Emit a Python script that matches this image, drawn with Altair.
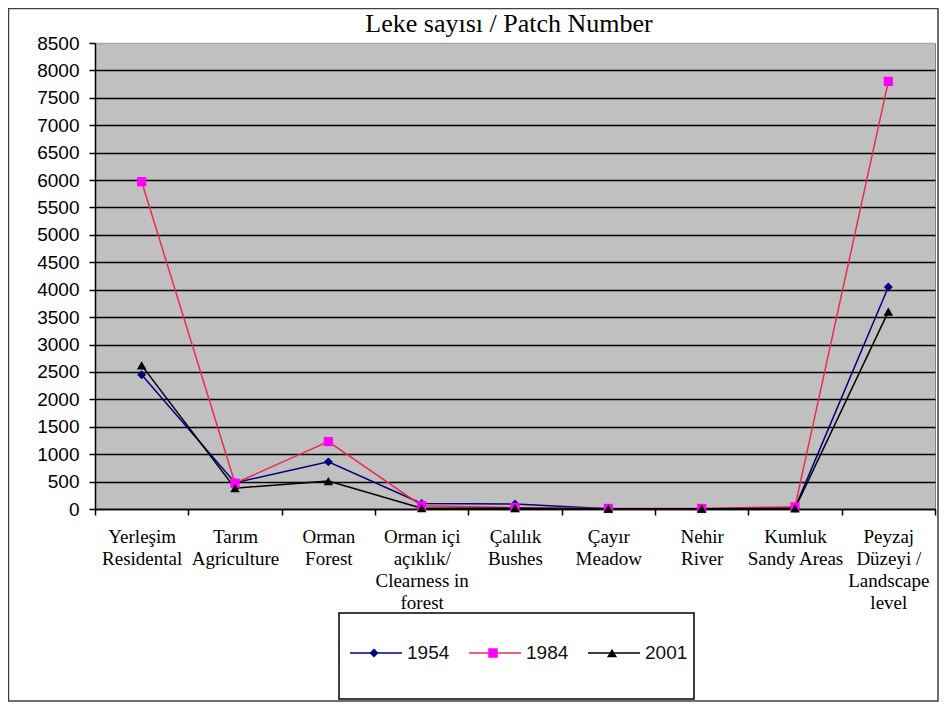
import altair as alt
import pandas as pd

categories = [
    "Yerleşim\nResidental",
    "Tarım\nAgriculture",
    "Orman\nForest",
    "Orman içi\naçıklık/\nClearness in\nforest",
    "Çalılık\nBushes",
    "Çayır\nMeadow",
    "Nehir\nRiver",
    "Kumluk\nSandy Areas",
    "Peyzaj\nDüzeyi /\nLandscape\nlevel",
]
years = ["1954", "1984", "2001"]
v1954 = [2450, 480, 860, 100, 90, 5, 5, 20, 4050]
v1984 = [5970, 470, 1230, 60, 25, 10, 10, 40, 7800]
v2001 = [2620, 380, 510, 15, 15, 5, 5, 10, 3600]
y_ticks = list(range(0, 8501, 500))
title_text = "Leke sayısı / Patch Number"

line_colors = ["#000080", "#ee2a50", "#000000"]
marker_colors = ["#000080", "#ff00ff", "#000000"]
shapes = ["diamond", "square", "triangle-up"]
sizes = [80, 90, 100]

rows = []
for yr, vals in zip(years, [v1954, v1984, v2001]):
    for c, v in zip(categories, vals):
        rows.append({"category": c, "year": yr, "value": v})
df = pd.DataFrame(rows)
one = pd.DataFrame({"k": [0]})  # single row for decorative marks

W, H = 840, 466

x_enc = alt.X(
    "category:N",
    sort=categories,
    scale=alt.Scale(type="band", paddingInner=0, paddingOuter=0),
    axis=alt.Axis(
        title=None,
        labelExpr="datum.value ? split(datum.value, '\\n') : ''",
        labelAngle=0,
        labelFont="Liberation Serif",
        labelFontSize=19,
        labelLineHeight=22,
        labelColor="black",
        labelPadding=12,
        labelBaseline="top",
        labelOverlap=False,
        labelLimit=300,
        labelBound=False,
        tickBand="extent",
        tickSize=6,
        tickColor="black",
        tickWidth=1.5,
        domainColor="black",
        domainWidth=1.5,
        grid=False,
    ),
)
y_enc = alt.Y(
    "value:Q",
    scale=alt.Scale(domain=[0, 8500], nice=False),
    axis=alt.Axis(
        title=None,
        values=y_ticks,
        format="d",
        labelFont="Liberation Sans",
        labelFontSize=19,
        labelColor="black",
        labelPadding=10,
        tickSize=6,
        tickColor="black",
        tickWidth=1.5,
        domainColor="black",
        domainWidth=1.5,
        grid=True,
        gridColor={"condition": {"test": "datum.value >= 8500", "value": "#a8a8a8"}, "value": "black"},
        gridWidth=1.6,
    ),
)

lines = alt.Chart(df).mark_line(strokeWidth=1.5).encode(
    x=x_enc,
    y=y_enc,
    color=alt.Color("year:N", scale=alt.Scale(domain=years, range=line_colors), legend=None),
    detail="year:N",
)
points = alt.Chart(df).mark_point(filled=True, opacity=1).encode(
    x=x_enc,
    y=y_enc,
    fill=alt.Fill("year:N", scale=alt.Scale(domain=years, range=marker_colors), legend=None),
    shape=alt.Shape("year:N", scale=alt.Scale(domain=years, range=shapes), legend=None),
    size=alt.Size("year:N", scale=alt.Scale(domain=years, range=sizes), legend=None),
)

# outer frame of the chart
frame = alt.Chart(one).mark_rect(fill=None, stroke="#404040", strokeWidth=1.5).encode(
    x=alt.value(-86.5), x2=alt.value(W + 3), y=alt.value(-34.5), y2=alt.value(658)
)

# chart title as a text mark
title = alt.Chart(one).mark_text(
    text=title_text, font="Liberation Serif", fontSize=26, fontWeight="normal", color="black",
    align="center", baseline="alphabetic"
).encode(x=alt.value(414), y=alt.value(-11))

# legend box (drawn by hand to show line-through markers)
leg_box = alt.Chart(one).mark_rect(fill="white", stroke="black", strokeWidth=1.5).encode(
    x=alt.value(244), x2=alt.value(599), y=alt.value(570), y2=alt.value(656)
)
legend_layers = [leg_box]
leg_y = 610
for i, yr in enumerate(years):
    x0 = 255 + i * 119
    legend_layers.append(
        alt.Chart(one).mark_rule(color=line_colors[i], strokeWidth=1.5).encode(
            x=alt.value(x0), x2=alt.value(x0 + 52), y=alt.value(leg_y)
        )
    )
    legend_layers.append(
        alt.Chart(one).mark_point(filled=True, opacity=1, shape=shapes[i], size=sizes[i],
                                  color=marker_colors[i]).encode(
            x=alt.value(x0 + 24), y=alt.value(leg_y)
        )
    )
    legend_layers.append(
        alt.Chart(one).mark_text(text=yr, align="left", baseline="middle", font="Liberation Sans",
                                 fontSize=19, fontWeight="normal", color="#111111").encode(
            x=alt.value(x0 + 57), y=alt.value(leg_y)
        )
    )

chart = alt.layer(lines, points, frame, title, *legend_layers).properties(
    width=W,
    height=H,
    padding={"left": 87, "top": 35, "right": 4, "bottom": 193},
    autosize=alt.AutoSizeParams(type="none"),
    background="white",
).configure_view(fill="#c0c0c0", stroke="#808080", strokeWidth=1)

chart.save("out.html", embed_options={"renderer": "svg", "actions": False})
